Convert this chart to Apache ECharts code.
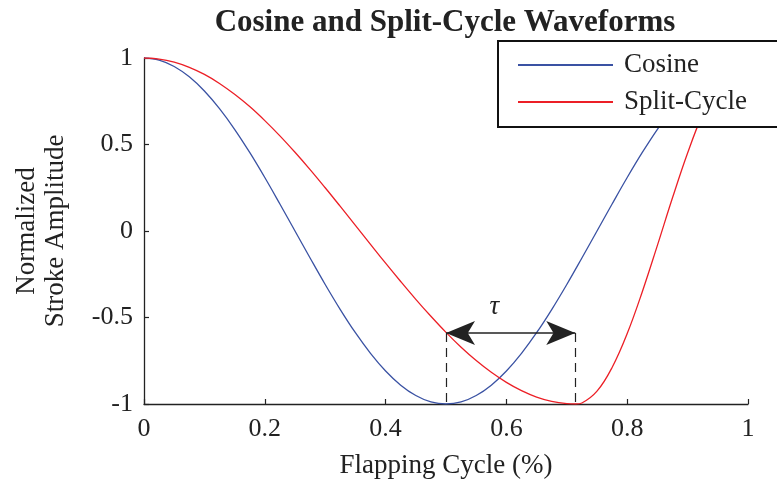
<!DOCTYPE html>
<html>
<head>
<meta charset="utf-8">
<script src="https://cdn.jsdelivr.net/npm/echarts@6/dist/echarts.min.js"></script>
<style>
  html, body { margin: 0; padding: 0; background: #fff; }
  #chart { width: 777px; height: 482px; }
</style>
</head>
<body>
<div id="chart"></div>
<script>
// values
let cosineX = [0, 0.025, 0.05, 0.075, 0.1, 0.125, 0.15, 0.175, 0.2, 0.225, 0.25, 0.275, 0.3, 0.325, 0.35, 0.375, 0.4, 0.425, 0.45, 0.475, 0.5,
  0.525, 0.55, 0.575, 0.6, 0.625, 0.65, 0.675, 0.7, 0.725, 0.75, 0.775, 0.8, 0.825, 0.85, 0.875, 0.9, 0.925, 0.95, 0.975, 1];
let cosineY = [1, 0.988, 0.951, 0.891, 0.809, 0.707, 0.588, 0.454, 0.309, 0.156, 0, -0.156, -0.309, -0.454, -0.588, -0.707, -0.809, -0.891, -0.951, -0.988, -1,
  -0.988, -0.951, -0.891, -0.809, -0.707, -0.588, -0.454, -0.309, -0.156, 0, 0.156, 0.309, 0.454, 0.588, 0.707, 0.809, 0.891, 0.951, 0.988, 1];

let splitX = [0, 0.025, 0.05, 0.075, 0.1, 0.125, 0.15, 0.175, 0.2, 0.225, 0.25, 0.275, 0.3, 0.325, 0.35, 0.375, 0.4, 0.425, 0.45, 0.475, 0.5,
  0.525, 0.55, 0.575, 0.6, 0.625, 0.65, 0.675, 0.7, 0.715, 0.725, 0.75, 0.775, 0.8, 0.825, 0.85, 0.875, 0.9, 0.925, 0.95, 0.975, 1];
let splitY = [1, 0.994, 0.976, 0.946, 0.905, 0.853, 0.79, 0.719, 0.638, 0.55, 0.455, 0.355, 0.25, 0.142, 0.033, -0.077, -0.186, -0.292, -0.395, -0.493, -0.586,
  -0.672, -0.749, -0.817, -0.875, -0.923, -0.96, -0.985, -0.998, -1, -0.994, -0.926, -0.789, -0.593, -0.351, -0.083, 0.192, 0.451, 0.677, 0.852, 0.963, 1];

// tau annotation (start / end of the arrow, its level, label spot)
let tauBounds = [0.5, 0.714];
let tauLevel = -0.59;
let tauLabel = [0.58, -0.44];

let seriesNames = ["Cosine", "Split-Cycle"];
let serif = "'Liberation Serif', 'DejaVu Serif', serif";

function pairs(xs, ys) {
  let out = [];
  for (let i = 0; i < xs.length; i++) {
    out.push([xs[i], ys[i]]);
  }
  return out;
}

let chart = echarts.init(document.getElementById("chart"));
let option = {
  animation: false,
  title: {
    text: "Cosine and Split-Cycle Waveforms",
    left: 440,
    textAlign: "center",
    top: 2,
    textStyle: {
      fontFamily: serif,
      fontWeight: "bold",
      fontSize: 31,
      color: "#222"
    }
  },
  legend: {
    data: seriesNames,
    orient: "vertical",
    left: 498,
    top: 41,
    z: 10,
    padding: [9, 60, 10, 19],
    itemGap: 7,
    itemWidth: 95,
    itemHeight: 14,
    backgroundColor: "#fff",
    borderColor: "#111",
    borderWidth: 2,
    borderRadius: 0,
    itemStyle: { opacity: 0 },
    textStyle: {
      fontFamily: serif,
      fontSize: 27,
      lineHeight: 30,
      color: "#222",
      padding: [0, 0, 0, 6]
    }
  },
  grid: {
    left: 144,
    right: 29,
    top: 58,
    bottom: 78,
    outerBoundsMode: "none"
  },
  xAxis: {
    type: "value",
    min: 0,
    max: 1,
    interval: 0.2,
    name: "Flapping Cycle (%)",
    nameLocation: "middle",
    nameGap: 47,
    nameTextStyle: { fontFamily: serif, fontSize: 27, color: "#222", lineHeight: 30 },
    axisLine: { onZero: false, lineStyle: { color: "#222", width: 1.3 } },
    axisTick: { inside: true, length: 5, lineStyle: { color: "#222", width: 1.2 } },
    axisLabel: { fontFamily: serif, fontSize: 26, color: "#222", margin: 12 },
    splitLine: { show: false }
  },
  yAxis: {
    type: "value",
    min: -1,
    max: 1,
    interval: 0.5,
    name: "Normalized\nStroke Amplitude",
    nameLocation: "middle",
    nameRotate: 90,
    nameGap: 74,
    nameTextStyle: { fontFamily: serif, fontSize: 27, color: "#222", lineHeight: 29 },
    axisLine: { show: true, lineStyle: { color: "#222", width: 1.3 } },
    axisTick: { show: true, inside: true, length: 5, lineStyle: { color: "#222", width: 1.2 } },
    axisLabel: { fontFamily: serif, fontSize: 26, color: "#222", margin: 11 },
    splitLine: { show: false }
  },
  series: [
    {
      name: seriesNames[0],
      type: "line",
      symbol: "none",
      smooth: 0.4,
      data: pairs(cosineX, cosineY),
      lineStyle: { color: "#3a52a3", width: 1.3 },
      itemStyle: { color: "#3a52a3" },
      markLine: {
        silent: true,
        symbol: ["arrow", "arrow"],
        symbolSize: [18, 29],
        label: { show: false },
        lineStyle: { color: "#222", width: 1.6, type: "solid" },
        data: [
          [{ coord: [tauBounds[0], tauLevel] }, { coord: [tauBounds[1], tauLevel] }]
        ]
      },
      markPoint: {
        silent: true,
        symbol: "circle",
        symbolSize: 0,
        label: {
          show: true,
          formatter: "τ",
          fontFamily: serif,
          fontStyle: "italic",
          fontSize: 27,
          color: "#222"
        },
        data: [{ coord: tauLabel }]
      }
    },
    {
      name: seriesNames[1],
      type: "line",
      symbol: "none",
      smooth: 0.4,
      data: pairs(splitX, splitY),
      lineStyle: { color: "#ec1f26", width: 1.3 },
      itemStyle: { color: "#ec1f26" },
      markLine: {
        silent: true,
        symbol: ["none", "none"],
        label: { show: false },
        lineStyle: { color: "#222", width: 1.2, type: [9, 6] },
        data: [
          [{ coord: [tauBounds[0], tauLevel] }, { coord: [tauBounds[0], -1] }],
          [{ coord: [tauBounds[1], tauLevel] }, { coord: [tauBounds[1], -1] }]
        ]
      }
    }
  ]
};
chart.setOption(option);
</script>
</body>
</html>
